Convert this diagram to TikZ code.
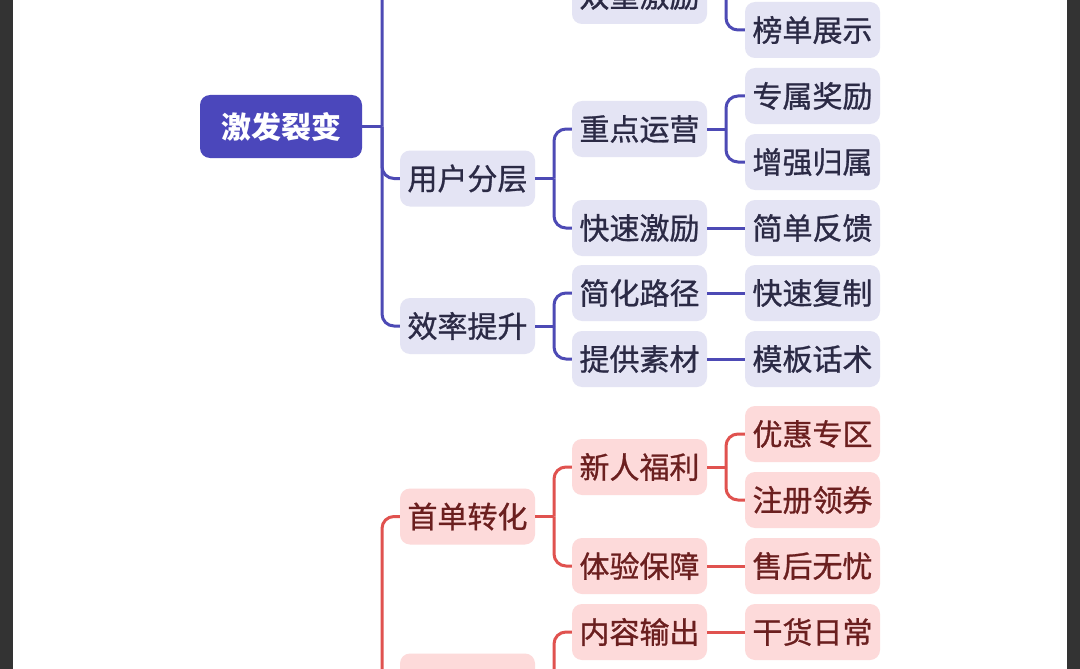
\documentclass[tikz,border=0pt]{standalone}
\usepackage{fontspec}
\newfontfamily\cjk{Noto Sans CJK SC}
\newfontfamily\cjkm[FakeBold=0.9]{Noto Sans CJK SC}
\definecolor{bgdark}{HTML}{333333}
\definecolor{rootc}{HTML}{4B47BB}
\definecolor{pline}{HTML}{4D4AB5}
\definecolor{pfill}{HTML}{E4E4F4}
\definecolor{ptext}{HTML}{2B2A45}
\definecolor{rline}{HTML}{E0524F}
\definecolor{rfill}{HTML}{FDDADA}
\definecolor{rtext}{HTML}{6B1F1F}
\begin{document}
\begin{tikzpicture}[x=1pt,y=-1pt,
  base/.style={inner sep=0pt, minimum width=135pt, minimum height=56pt, rounded corners=10pt,
    font=\cjkm\fontsize{30}{30}\selectfont},
  pnode/.style={base, fill=pfill, text=ptext},
  rnode/.style={base, fill=rfill, text=rtext},
  rootnode/.style={base, minimum width=162pt, minimum height=63pt, fill=rootc, text=white,
    font=\cjk\bfseries\fontsize{30}{30}\selectfont},
  plink/.style={draw=pline, line width=3pt, rounded corners=12pt},
  rlink/.style={draw=rline, line width=3pt, rounded corners=12pt}]
\clip (0,0) rectangle (1080,669);
\fill[bgdark] (0,0) rectangle (1080,669);
\fill[white] (13,0) rectangle (1067,669);

% purple tree
\node[rootnode] (root) at (281,126.5) {激发裂变};
\node[pnode] (yh) at (467.5,178.5) {用户分层};
\node[pnode] (xl) at (467.5,326) {效率提升};
\node[pnode] (sz) at (639.5,-4) {双重激励};
\node[pnode] (zd) at (639.5,129) {重点运营};
\node[pnode] (ks) at (639.5,228) {快速激励};
\node[pnode] (jh) at (639.5,293) {简化路径};
\node[pnode] (tg) at (639.5,359) {提供素材};
\node[pnode] (bd) at (812.5,30) {榜单展示};
\node[pnode] (zs) at (812.5,96) {专属奖励};
\node[pnode] (zq) at (812.5,162) {增强归属};
\node[pnode] (jd) at (812.5,228) {简单反馈};
\node[pnode] (kf) at (812.5,293) {快速复制};
\node[pnode] (mb) at (812.5,359) {模板话术};
\coordinate (top2) at (400,-73);

\coordinate (j0) at (382,126.5);
\draw[plink] (root.east) -- (j0);
\draw[plink] (j0) |- (top2);
\draw[plink] (j0) |- (yh.west);
\draw[plink] (j0) |- (xl.west);

\coordinate (j1) at (554,178.5);
\draw[plink] (yh.east) -- (j1);
\draw[plink] (j1) |- (zd.west);
\draw[plink] (j1) |- (ks.west);

\coordinate (j2) at (554,326);
\draw[plink] (xl.east) -- (j2);
\draw[plink] (j2) |- (jh.west);
\draw[plink] (j2) |- (tg.west);

\coordinate (j3) at (726,-4);
\draw[plink] (sz.east) -- (j3);
\draw[plink] (j3) |- (bd.west);

\coordinate (j4) at (726,129);
\draw[plink] (zd.east) -- (j4);
\draw[plink] (j4) |- (zs.west);
\draw[plink] (j4) |- (zq.west);

\draw[plink] (ks.east) -- (jd.west);
\draw[plink] (jh.east) -- (kf.west);
\draw[plink] (tg.east) -- (mb.west);

% red tree
\node[rnode] (sd) at (467.5,516.5) {首单转化};
\node[rnode] (r2) at (467.5,681.5) {};
\node[rnode] (xr) at (639.5,467) {新人福利};
\node[rnode] (ty) at (639.5,566) {体验保障};
\node[rnode] (nr) at (639.5,632) {内容输出};
\node[rnode] (yq) at (812.5,434) {优惠专区};
\node[rnode] (zc) at (812.5,500) {注册领券};
\node[rnode] (sh) at (812.5,566) {售后无忧};
\node[rnode] (gh) at (812.5,632) {干货日常};

\coordinate (rj) at (382,760);
\draw[rlink] (rj) |- (sd.west);
\draw[rlink] (rj) |- (r2.west);

\coordinate (rj1) at (554,516.5);
\draw[rlink] (sd.east) -- (rj1);
\draw[rlink] (rj1) |- (xr.west);
\draw[rlink] (rj1) |- (ty.west);

\coordinate (rj2) at (726,467);
\draw[rlink] (xr.east) -- (rj2);
\draw[rlink] (rj2) |- (yq.west);
\draw[rlink] (rj2) |- (zc.west);

\draw[rlink] (ty.east) -- (sh.west);

\coordinate (rj3) at (554,681.5);
\draw[rlink] (r2.east) -- (rj3);
\draw[rlink] (rj3) |- (nr.west);
\coordinate (rbot) at (572,760);
\draw[rlink] (rj3) |- (rbot);

\draw[rlink] (nr.east) -- (gh.west);
\end{tikzpicture}
\end{document}
